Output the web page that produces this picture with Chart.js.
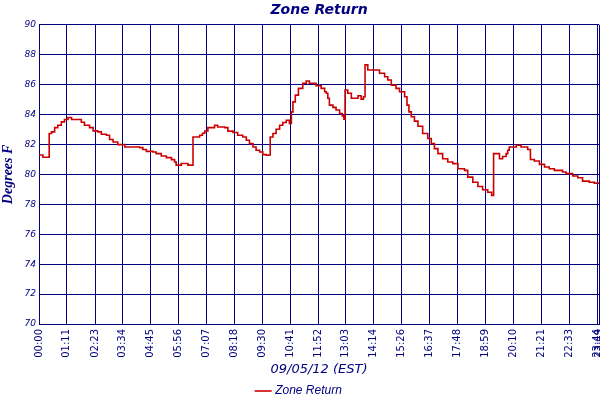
<!DOCTYPE html>
<html>
<head>
<meta charset="utf-8">
<script src="https://cdn.jsdelivr.net/npm/chart.js@4/dist/chart.umd.min.js"></script>
<style>
  html, body { margin: 0; padding: 0; background: #fff; }
  #wrap { width: 600px; height: 400px; }
</style>
</head>
<body>
<div id="wrap"><canvas id="c" width="600" height="400"></canvas></div>
<script>
// ---- data (minutes after midnight, degrees F) ----
const minutes = [0, 10, 23, 26, 32, 40, 48, 57, 65, 74, 83, 99, 108, 116, 129, 138, 150, 159, 172, 180, 189, 201, 219, 257, 265, 274, 291, 299, 312, 325, 338, 346, 350, 363, 380, 391, 393, 405, 410, 417, 423, 431, 448, 456, 474, 482, 495, 507, 520, 529, 537, 546, 554, 563, 571, 580, 586, 590, 597, 605, 614, 622, 631, 639, 644, 648, 654, 662, 673, 682, 690, 707, 720, 729, 733, 737, 741, 750, 758, 767, 774, 778, 781, 788, 797, 805, 814, 822, 828, 832, 839, 860, 869, 882, 890, 899, 911, 920, 933, 939, 944, 950, 958, 967, 979, 992, 1001, 1009, 1018, 1030, 1043, 1056, 1069, 1086, 1094, 1107, 1120, 1132, 1145, 1155, 1160, 1167, 1175, 1183, 1192, 1196, 1200, 1218, 1230, 1247, 1254, 1264, 1277, 1290, 1302, 1315, 1336, 1345, 1362, 1375, 1387, 1404, 1417, 1429];
const temps = [81.3, 81.15, 81.15, 82.73, 82.84, 83.13, 83.29, 83.51, 83.67, 83.8, 83.67, 83.67, 83.49, 83.29, 83.13, 82.91, 82.84, 82.68, 82.62, 82.33, 82.17, 81.99, 81.83, 81.79, 81.66, 81.54, 81.5, 81.39, 81.23, 81.12, 80.99, 80.83, 80.62, 80.73, 80.62, 80.62, 82.5, 82.5, 82.62, 82.75, 82.9, 83.13, 83.29, 83.17, 83.13, 82.89, 82.8, 82.62, 82.5, 82.28, 82.06, 81.83, 81.61, 81.5, 81.32, 81.28, 81.3, 82.5, 82.73, 83.02, 83.29, 83.47, 83.62, 83.4, 84.18, 84.85, 85.3, 85.75, 86.09, 86.24, 86.09, 85.93, 85.75, 85.52, 85.42, 85.09, 84.63, 84.48, 84.3, 84.07, 83.91, 83.69, 85.64, 85.42, 85.09, 85.09, 85.26, 85.03, 85.19, 87.32, 86.98, 86.98, 86.76, 86.53, 86.31, 85.97, 85.75, 85.52, 85.19, 84.63, 84.18, 83.85, 83.56, 83.22, 82.73, 82.4, 82.06, 81.72, 81.39, 81.05, 80.83, 80.72, 80.38, 80.27, 79.82, 79.48, 79.19, 78.97, 78.81, 78.59, 81.39, 81.39, 81.05, 81.2, 81.39, 81.61, 81.83, 81.95, 81.83, 81.66, 81.0, 80.9, 80.67, 80.49, 80.38, 80.27, 80.16, 80.05, 79.89, 79.78, 79.55, 79.48, 79.42, 79.42];
const tickLabels = ['00:00', '01:11', '02:23', '03:34', '04:45', '05:56', '07:07', '08:18', '09:30', '10:41', '11:52', '13:03', '14:14', '15:26', '16:37', '17:48', '18:59', '20:10', '21:21', '22:33', '23:44', '23:49'];
const seriesName = 'Zone Return';
const chartTitle = 'Zone Return';
const xTitle = '09/05/12 (EST)';
const yTitle = 'Degrees F';

const NAVY = '#000080';
const RED = '#cc0000';
const tickMinutes = tickLabels.map(s => { const p = s.split(':'); return (+p[0]) * 60 + (+p[1]); });
const points = minutes.map((m, i) => ({ x: m, y: temps[i] }));

// center the chart title over the plot area, as in the reference
const titleOverPlot = {
  id: 'titleOverPlot',
  afterLayout(chart) {
    if (chart.titleBlock) {
      chart.titleBlock.left = chart.chartArea.left;
      chart.titleBlock.right = chart.chartArea.right;
    }
  }
};

new Chart(document.getElementById('c'), {
  type: 'line',
  data: {
    datasets: [{
      label: seriesName,
      data: points,
      borderColor: RED,
      backgroundColor: RED,
      borderWidth: 1.6,
      pointRadius: 0,
      stepped: true,
      fill: false
    }]
  },
  plugins: [titleOverPlot],
  options: {
    responsive: false,
    animation: false,
    devicePixelRatio: 1,
    layout: { padding: { left: 0, right: 1, top: 0, bottom: -7 } },
    plugins: {
      title: {
        display: true,
        text: chartTitle,
        color: NAVY,
        font: { family: 'DejaVu Sans', size: 14, weight: 'bold', style: 'italic' },
        padding: { top: 2, bottom: 6 }
      },
      legend: {
        display: true,
        position: 'bottom',
        labels: {
          color: NAVY,
          font: { family: 'Liberation Sans', size: 12, style: 'italic' },
          usePointStyle: true,
          pointStyle: 'line',
          boxWidth: 16,
          padding: 1
        }
      },
      tooltip: { enabled: false }
    },
    scales: {
      x: {
        type: 'linear',
        min: 0,
        max: tickMinutes[tickMinutes.length - 1],
        afterBuildTicks: (scale) => { scale.ticks = tickMinutes.map(v => ({ value: v })); },
        ticks: {
          autoSkip: false,
          minRotation: 90,
          maxRotation: 90,
          color: NAVY,
          padding: 5,
          font: { family: 'DejaVu Sans', size: 10 },
          callback: (v, i) => tickLabels[i]
        },
        grid: { color: NAVY, lineWidth: 1, drawTicks: false },
        border: { color: NAVY, width: 1 },
        title: {
          display: true,
          text: xTitle,
          color: NAVY,
          font: { family: 'DejaVu Sans', size: 13, style: 'italic' },
          padding: { top: 1, bottom: 7 }
        },
        afterFit: (scale) => { scale.paddingLeft = 0; scale.paddingRight = 0; scale.height = 60; }
      },
      y: {
        min: 70,
        max: 90,
        ticks: {
          stepSize: 2,
          color: NAVY,
          padding: 3,
          font: { family: 'DejaVu Sans', size: 9, style: 'italic' }
        },
        grid: { color: NAVY, lineWidth: 1, drawTicks: false },
        border: { color: NAVY, width: 1 },
        title: {
          display: true,
          text: yTitle,
          color: NAVY,
          font: { family: 'Liberation Serif', size: 14, weight: 'bold', style: 'italic' },
          padding: { top: 0, bottom: 2 }
        },
        afterFit: (scale) => { scale.width = 39; scale.paddingTop = 0; scale.paddingBottom = 0; }
      }
    }
  }
});
</script>
</body>
</html>
